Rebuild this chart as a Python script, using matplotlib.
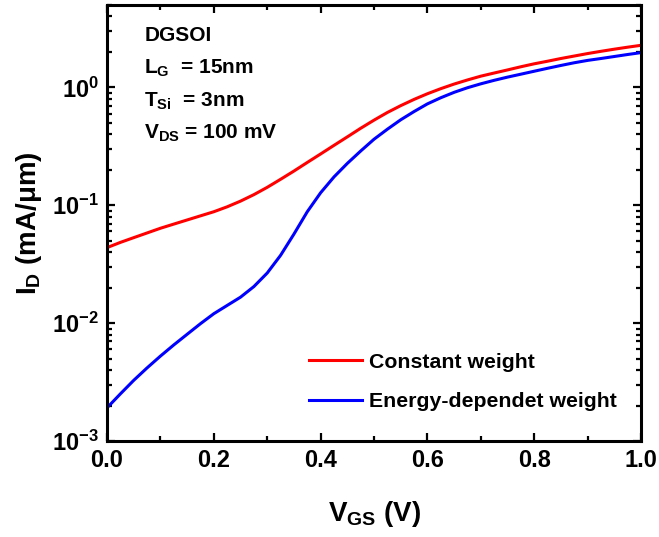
import numpy as np
import matplotlib
matplotlib.use("Agg")
import matplotlib.pyplot as plt
from matplotlib.ticker import LogLocator, MultipleLocator, LogFormatterMathtext, NullFormatter

# data (V_GS in V, I_D in mA/um)
vgs = [0.000, 0.025, 0.050, 0.075, 0.100, 0.125, 0.150, 0.175, 0.200, 0.225,
       0.250, 0.275, 0.300, 0.325, 0.350, 0.375, 0.400, 0.425, 0.450, 0.475,
       0.500, 0.525, 0.550, 0.575, 0.600, 0.625, 0.650, 0.675, 0.700, 0.725,
       0.750, 0.775, 0.800, 0.825, 0.850, 0.875, 0.900, 0.925, 0.950, 0.975, 1.000]

id_constant = [0.0437, 0.0484, 0.0531, 0.0582, 0.0638, 0.0692, 0.0750, 0.0813, 0.0881, 0.0970,
               0.1084, 0.1230, 0.1419, 0.1660, 0.1950, 0.2307, 0.2723, 0.3221, 0.3802, 0.4498,
               0.5272, 0.6124, 0.6998, 0.7907, 0.8831, 0.9750, 1.067, 1.156, 1.245, 1.324,
               1.406, 1.496, 1.585, 1.667, 1.758, 1.845, 1.936, 2.023, 2.109, 2.193, 2.275]

id_energy = [0.00191, 0.00251, 0.00327, 0.00417, 0.00525, 0.00653, 0.00804, 0.00989, 0.01202, 0.01413,
             0.01660, 0.02042, 0.02661, 0.03758, 0.05689, 0.0881, 0.1276, 0.1738, 0.2265, 0.2884,
             0.3631, 0.4416, 0.5309, 0.6237, 0.7244, 0.8166, 0.9078, 0.9931, 1.072, 1.148,
             1.222, 1.294, 1.371, 1.452, 1.535, 1.618, 1.694, 1.758, 1.828, 1.901, 1.972]

labels = ["Constant weight", "Energy-dependet weight"]
info_lines = ["DGSOI",
              r"L$_\mathregular{G}$  = 15nm",
              r"T$_\mathregular{Si}$  = 3nm",
              r"V$_\mathregular{DS}$ = 100 mV"]

# bold Arial-like look everywhere
plt.rcParams['font.family'] = ['Liberation Sans', 'DejaVu Sans']
plt.rcParams['font.weight'] = 'bold'
plt.rcParams['axes.labelweight'] = 'bold'
plt.rcParams['mathtext.fontset'] = 'custom'
plt.rcParams['mathtext.rm'] = 'Liberation Sans:bold'
plt.rcParams['mathtext.it'] = 'Liberation Sans:bold'
plt.rcParams['mathtext.bf'] = 'Liberation Sans:bold'
plt.rcParams['mathtext.default'] = 'rm'

fig = plt.figure(figsize=(6.59, 5.37), dpi=100)
ax = fig.add_axes([0.1624, 0.1788, 0.8103, 0.8119])

ax.plot(vgs, id_constant, color='#ff0000', lw=2.2, label=labels[0])
ax.plot(vgs, id_energy, color='#0000ff', lw=2.2, label=labels[1])

ax.set_yscale('log')
ax.set_xlim(0, 1.0)
ax.set_ylim(1e-3, 5)

# ticks
ax.xaxis.set_major_locator(MultipleLocator(0.2))
ax.xaxis.set_minor_locator(MultipleLocator(0.1))
ax.xaxis.set_major_formatter(plt.FuncFormatter(lambda v, p: "%.1f" % v))
ax.yaxis.set_major_locator(LogLocator(base=10, numticks=10))
ax.yaxis.set_minor_locator(LogLocator(base=10, subs=np.arange(2, 10), numticks=20))
ax.yaxis.set_major_formatter(LogFormatterMathtext())
ax.yaxis.set_minor_formatter(NullFormatter())
ax.tick_params(which='both', direction='in', top=True, right=True, width=1.6)
ax.tick_params(which='major', length=6, labelsize=17, pad=6)
ax.tick_params(which='minor', length=3.5)
for s in ax.spines.values():
    s.set_linewidth(2.2)

ax.set_xlabel(r"V$_\mathregular{GS}$ (V)", fontsize=20, labelpad=19)
ax.set_ylabel(r"I$_\mathregular{D}$ (mA/$\mu$m)", fontsize=20, labelpad=6)

# device info block
for i, t in enumerate(info_lines):
    ax.text(0.070, 0.93 - i * 0.075, t, transform=ax.transAxes, fontsize=15,
            fontweight='bold', va='center', ha='left')

leg = ax.legend(loc='lower right', bbox_to_anchor=(0.99, 0.025), frameon=False,
                fontsize=15.3, handlelength=2.5, handletextpad=0.3, labelspacing=0.95)

fig.savefig("out.png", dpi=100)
